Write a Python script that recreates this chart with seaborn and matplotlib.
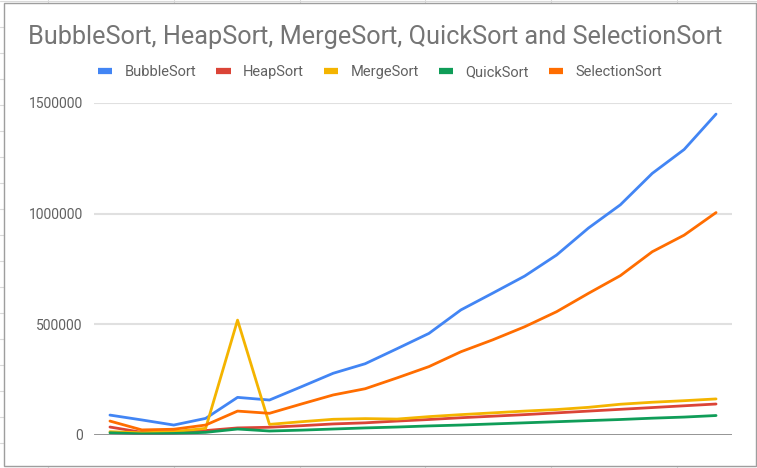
import numpy as np
import pandas as pd
import matplotlib
matplotlib.use("Agg")
import matplotlib.pyplot as plt
from matplotlib.lines import Line2D
from matplotlib.patches import Rectangle
import seaborn as sns

# ---- data ----
runs = list(range(1, 21))
bubble = [90000, 68000, 45000, 75000, 170000, 158000, 218000, 279000, 322000, 390000,
          459000, 565000, 641000, 718000, 813000, 935000, 1040000, 1182000, 1290000, 1450000]
heap = [36000, 12000, 15000, 20000, 32000, 35000, 42000, 50000, 55000, 63000,
        70000, 78000, 85000, 92000, 100000, 108000, 116000, 124000, 132000, 140000]
merge = [15000, 10000, 15000, 30000, 519000, 48000, 60000, 71000, 74000, 72000,
         83000, 92000, 100000, 108000, 115000, 125000, 139000, 148000, 155000, 163000]
quick = [10000, 5000, 7000, 12000, 27000, 18000, 22000, 27000, 32000, 36000,
         41000, 45000, 50000, 55000, 60000, 65000, 70000, 76000, 81000, 88000]
selection = [63000, 23000, 26000, 45000, 108000, 98000, 140000, 181000, 209000, 258000,
             309000, 376000, 430000, 489000, 557000, 640000, 720000, 828000, 903000, 1005000]

series_names = ["BubbleSort", "HeapSort", "MergeSort", "QuickSort", "SelectionSort"]
series_values = [bubble, heap, merge, quick, selection]
colors = ["#4285F4", "#DB4437", "#F4B400", "#0F9D58", "#FF6D00"]
yticks = [0, 500000, 1000000, 1500000]
title = "BubbleSort, HeapSort, MergeSort, QuickSort and SelectionSort"

df = pd.concat([pd.DataFrame({"run": np.arange(len(runs)), "value": v, "algo": n})
                for n, v in zip(series_names, series_values)], ignore_index=True)

sns.set_theme(style="white")
plt.rcParams["font.family"] = ["Roboto", "DejaVu Sans"]

W, H = 757, 468
fig = plt.figure(figsize=(W / 100, H / 100), dpi=100)
fig.patch.set_facecolor("white")

# spreadsheet grid behind the chart
for xv in [48, 174, 300, 425, 551, 677]:
    fig.add_artist(Line2D([xv / W, xv / W], [0, 1], color="#d9d9d9", lw=0.8,
                          transform=fig.transFigure, zorder=0))
for yv in range(1, H, 26):
    fig.add_artist(Line2D([0, 1], [1 - yv / H, 1 - yv / H], color="#d9d9d9", lw=0.8,
                          transform=fig.transFigure, zorder=0))
fig.add_artist(Rectangle((4 / W, 1 - 466 / H), (756 - 4) / W, (466 - 3) / H,
                         transform=fig.transFigure, facecolor="white",
                         edgecolor="#9e9e9e", lw=1.0, zorder=1))

ax = fig.add_axes([94 / W, 1 - 435 / H, (732 - 94) / W, (435 - 103) / H], zorder=2)
ax.set_facecolor("none")

sns.lineplot(data=df, x="run", y="value", hue="algo", hue_order=series_names,
             palette=colors, linewidth=2.0, ax=ax, legend=False, zorder=3)

ax.set_xlim(-0.5, len(runs) - 0.5)
ax.set_ylim(0, 1500000)
ax.set_yticks(yticks)
ax.set_yticklabels([str(t) for t in yticks])
ax.set_xticks([])
ax.set_xlabel("")
ax.set_ylabel("")
for s in ax.spines.values():
    s.set_visible(False)
ax.tick_params(axis="y", length=0, pad=8, labelsize=10, labelcolor="#616161")
for t in yticks[1:]:
    ax.axhline(t, color="#e0e0e0", lw=1.5, zorder=1)
ax.axhline(0, color="#757575", lw=1.8, zorder=4)

fig.text(28 / W, 1 - 37 / H, title, ha="left", va="center", fontsize=18.2,
         color="#757575")

handles = [Line2D([], [], color=c, lw=4.5, solid_capstyle="butt") for c in colors]
fig.legend(handles, series_names, loc="center", bbox_to_anchor=(380 / W, 1 - 72 / H),
           ncol=5, frameon=False, handlelength=1.0, handletextpad=0.85,
           columnspacing=1.35, fontsize=10.5, labelcolor="#616161")

fig.savefig("out.png", dpi=100)
